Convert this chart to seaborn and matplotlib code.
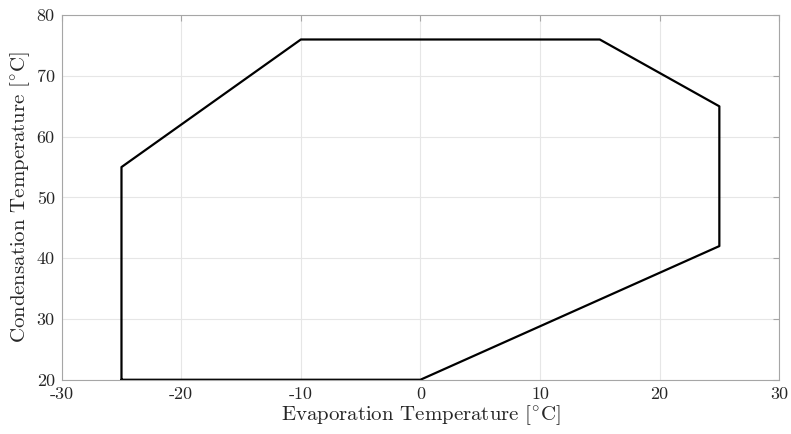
import pandas as pd
import matplotlib
matplotlib.use("Agg")
import matplotlib.pyplot as plt
import seaborn as sns

# operating envelope corners (evaporation, condensation), closed polygon
evap = [-25, -25, -10, 15, 25, 25, 0, -25]
cond = [20, 55, 76, 76, 65, 42, 20, 20]
x_ticks = [-30, -20, -10, 0, 10, 20, 30]
y_ticks = [20, 30, 40, 50, 60, 70, 80]

df = pd.DataFrame({"evap": evap, "cond": cond})

sns.set_style("white")
plt.rcParams["font.family"] = ["serif"]
plt.rcParams["font.serif"] = ["cmr10", "DejaVu Serif"]
plt.rcParams["mathtext.fontset"] = "cm"
plt.rcParams["axes.unicode_minus"] = False

fig = plt.figure(figsize=(7.91, 4.34), dpi=100)
ax = fig.add_axes([0.078, 0.125, 0.907, 0.84])

sns.lineplot(data=df, x="evap", y="cond", sort=False, color="black",
             linewidth=1.6, ax=ax, estimator=None)

ax.set_xlim(-30, 30)
ax.set_ylim(20, 80)
ax.set_xticks(x_ticks)
ax.set_xticklabels([str(v) for v in x_ticks])
ax.set_yticks(y_ticks)
ax.set_yticklabels([str(v) for v in y_ticks])
ax.grid(True, color="#e6e6e6", linewidth=0.8)
ax.set_axisbelow(True)
for s in ax.spines.values():
    s.set_color("#a6a6a6")
    s.set_linewidth(0.8)
ax.tick_params(direction="in", length=4, color="#a6a6a6", labelsize=13,
               labelcolor="#262626", top=True, right=True, pad=5)
ax.set_xlabel(r"Evaporation Temperature [$^{\circ}$C]", fontsize=15, color="#262626", labelpad=1)
ax.set_ylabel(r"Condensation Temperature [$^{\circ}$C]", fontsize=15, color="#262626", labelpad=3)

fig.savefig("out.png", dpi=100)
